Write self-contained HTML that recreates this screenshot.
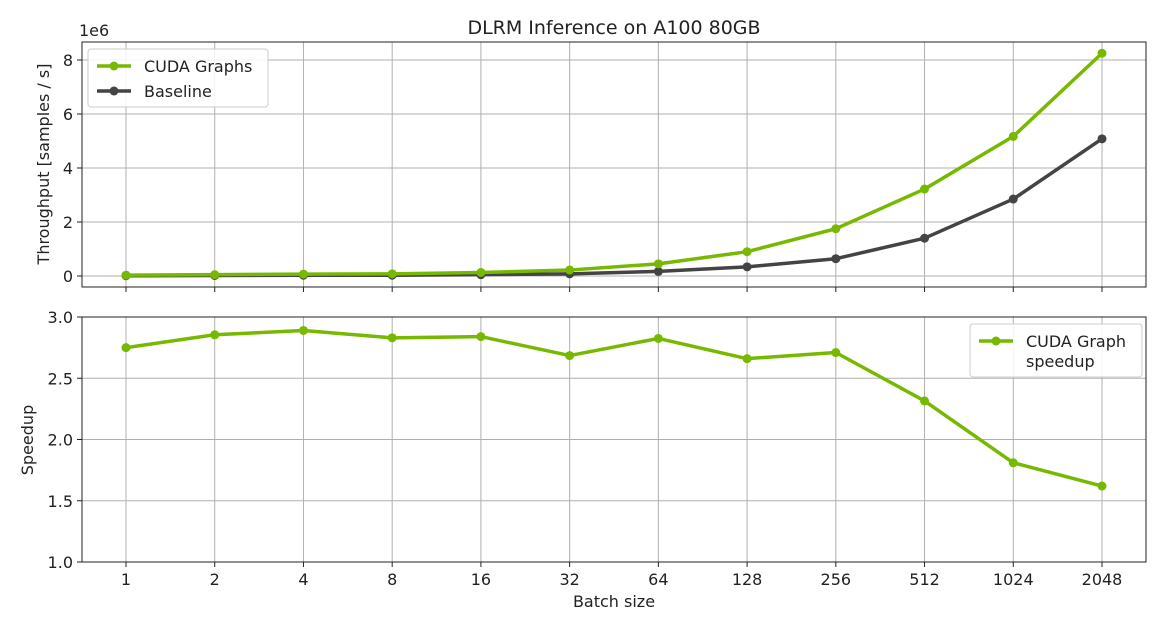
<!DOCTYPE html>
<html><head><meta charset="utf-8"><style>
body{margin:0;background:#fff;font-family:"DejaVu Sans","Liberation Sans",sans-serif;}
svg text{font-family:"DejaVu Sans","Liberation Sans",sans-serif;fill:#222;}
</style></head><body>
<svg id="c" width="1170" height="630" xmlns="http://www.w3.org/2000/svg">
<text x="614" y="34" font-size="19" text-anchor="middle">DLRM Inference on A100 80GB</text>
</svg>
<script>
const categories=["1","2","4","8","16","32","64","128","256","512","1024","2048"];
const cudaGraphs=[0.03,0.05,0.07,0.08,0.13,0.22,0.45,0.9,1.75,3.22,5.17,8.25];
const baseline=[0.01,0.02,0.03,0.03,0.05,0.08,0.17,0.34,0.64,1.4,2.85,5.08];
const speedup=[2.75,2.855,2.89,2.83,2.84,2.685,2.825,2.66,2.71,2.315,1.81,1.62];
const topTicks=[0,2,4,6,8];
const botTicks=["1.0","1.5","2.0","2.5","3.0"];
const svg=document.getElementById('c');
const NS="http://www.w3.org/2000/svg";
function mk(t,a,p){const e=document.createElementNS(NS,t);for(const k in a)e.setAttribute(k,a[k]);(p||svg).appendChild(e);return e;}
const L=82,R=1146;
const xs=i=>126+i*(1102-126)/11;
const yTop=v=>276-v*27;
const yBot=v=>562-(v-1)*122.5;
const GREEN="#76b900",DARK="#444";
// axes frames
[[42,287],[317,562]].forEach(([t,b],k)=>{
  categories.forEach((c,i)=>{const g=mk('line',{x1:xs(i),x2:xs(i),y1:t,y2:b,stroke:'#b0b0b0','stroke-width':1});
  
  const tk=mk('line',{x1:xs(i),x2:xs(i),y1:b,y2:b+5,stroke:'#222'});});
});
topTicks.forEach(v=>{const y=yTop(v);
  const g=mk('line',{x1:L,x2:R,y1:y,y2:y,stroke:'#b0b0b0'});
  mk('line',{x1:L-5,x2:L,y1:y,y2:y,stroke:'#222'});
  const t=mk('text',{x:L-9,y:y+6,'font-size':16,'text-anchor':'end'});t.textContent=v;});
botTicks.forEach(s=>{const y=yBot(+s);
  const g=mk('line',{x1:L,x2:R,y1:y,y2:y,stroke:'#b0b0b0'});
  mk('line',{x1:L-5,x2:L,y1:y,y2:y,stroke:'#222'});
  const t=mk('text',{x:L-9,y:y+6,'font-size':16,'text-anchor':'end'});t.textContent=s;});
categories.forEach((c,i)=>{const t=mk('text',{x:xs(i),y:585,'font-size':16,'text-anchor':'middle'});t.textContent=c;});
function series(vals,yf,col,name){
  const p=mk('polyline',{points:vals.map((v,i)=>xs(i)+','+yf(v)).join(' '),fill:'none',stroke:col,'stroke-width':3.5,'stroke-linejoin':'round'});
  
  vals.forEach((v,i)=>{const c=mk('circle',{cx:xs(i),cy:yf(v),r:4.5,fill:col});});
}
series(baseline,yTop,DARK,'baseline');
series(cudaGraphs,yTop,GREEN,'cuda-graphs');
series(speedup,yBot,GREEN,'speedup');
[[42,287],[317,562]].forEach(([t,b])=>{const r=mk('rect',{x:L,y:t,width:R-L,height:b-t,fill:'none',stroke:'#222','stroke-width':1});});
let t;
t=mk('text',{x:79,y:36,'font-size':16});t.textContent='1e6';
t=mk('text',{x:0,y:0,'font-size':16,'text-anchor':'middle',transform:'translate(49,164) rotate(-90)'});t.textContent='Throughput [samples / s]';
t=mk('text',{x:0,y:0,'font-size':16,'text-anchor':'middle',transform:'translate(33,440) rotate(-90)'});t.textContent='Speedup';
t=mk('text',{x:614,y:607,'font-size':16,'text-anchor':'middle'});t.textContent='Batch size';
// legends
function legend(x,y,w,h,items,name){
  const g=mk('g',{});
  mk('rect',{x:x,y:y,width:w,height:h,rx:3,fill:'#fff','fill-opacity':0.85,stroke:'#ccc'},g);
  items.forEach(([col,lines],k)=>{const ly=y+17+k*25;
    mk('line',{x1:x+9,x2:x+43,y1:ly,y2:ly,stroke:col,'stroke-width':3.5},g);
    mk('circle',{cx:x+26,cy:ly,r:4.5,fill:col},g);
    lines.forEach((s,j)=>{const tt=mk('text',{x:x+56,y:ly+6+j*20,'font-size':16},g);tt.textContent=s;});
  });
}
legend(88,49,180,58,[[GREEN,['CUDA Graphs']],[DARK,['Baseline']]],'legend-top');
legend(970,324,172,53,[[GREEN,['CUDA Graph','speedup']]],'legend-bottom');
</script>
</body></html>
